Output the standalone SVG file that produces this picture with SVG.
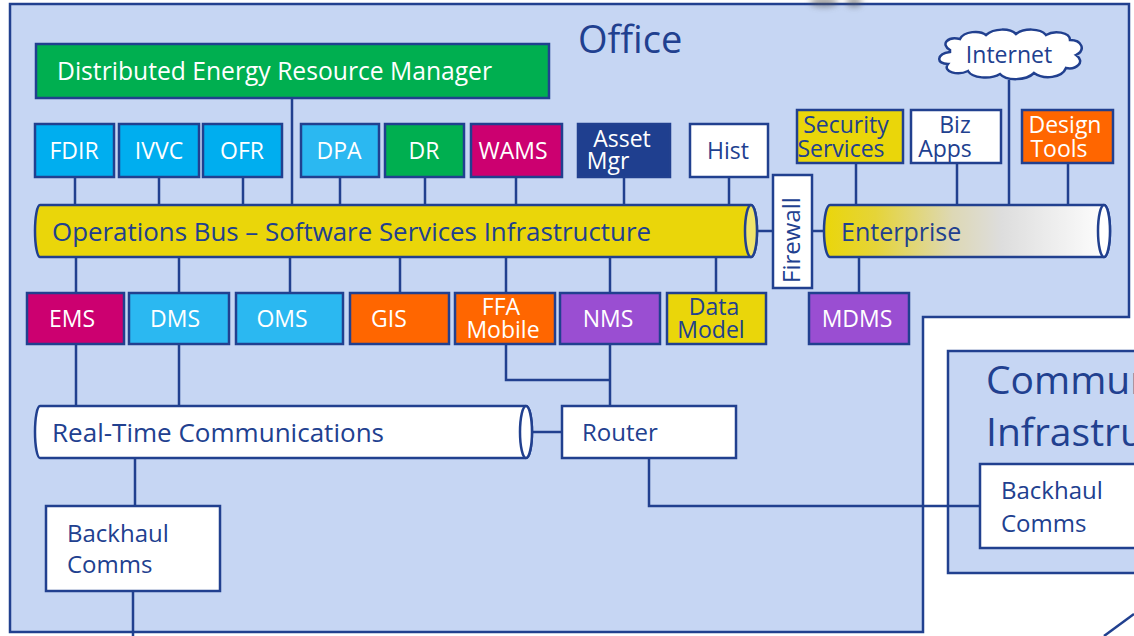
<svg xmlns="http://www.w3.org/2000/svg" width="1134" height="636" viewBox="0 0 1134 636">
<style>
.b{stroke:#21408F;stroke-width:2.5}
.ln{stroke:#21408F;stroke-width:2.5;fill:none}
text{font-family:"Open Sans","Liberation Sans",sans-serif;font-size:23px}
.w{fill:#fff}
.d{fill:#21408F}
.c{text-anchor:middle}
.cyan{fill:#00AEEF}
.lb{fill:#2BB8F1}
.gr{fill:#00AF50}
.mg{fill:#CC0070}
.nv{fill:#1F3F8F}
.wh{fill:#fff}
.yl{fill:#EAD60A}
.or{fill:#FF6600}
.pu{fill:#9A4ED2}
</style>
<defs>
<linearGradient id="entG" gradientUnits="userSpaceOnUse" x1="824" y1="0" x2="1110" y2="0">
<stop offset="0" stop-color="#EAD60A"/>
<stop offset="0.18" stop-color="#E5D438"/>
<stop offset="0.45" stop-color="#DDD8B5"/>
<stop offset="0.62" stop-color="#DDDDDD"/>
<stop offset="1" stop-color="#FFFFFF"/>
</linearGradient>
<filter id="blur" x="-50%" y="-100%" width="200%" height="300%"><feGaussianBlur stdDeviation="3"/></filter>
</defs>
<rect width="1134" height="636" fill="#fff"/>
<g id="office">
<path d="M10,4 H1129 V317 H923 V632 H10 Z" fill="#C6D6F3" class="b"/>
<text x="578" y="53" class="d" style="font-size:38px">Office</text>
</g>
<g id="smudge" filter="url(#blur)" opacity="0.55">
<ellipse cx="824" cy="2" rx="14" ry="5" fill="#555"/>
<ellipse cx="854" cy="2" rx="8" ry="5" fill="#555"/>
</g>
<g id="comm-infra">
<rect x="948" y="351" width="200" height="222" fill="#C6D6F3" class="b"/>
<text x="986" y="394" class="d" style="font-size:39px">Commun</text>
<text x="986" y="446" class="d" style="font-size:39px">Infrastru</text>
</g>
<g id="connectors">
<path class="ln" d="M292,98V205 M75,177V205 M159,177V205 M243,177V205 M340,177V205 M425,177V205 M516,177V205 M624,177V205 M729,177V205"/>
<path class="ln" d="M856,163V205 M957,163V205 M1009,80V205 M1068,163V205"/>
<path class="ln" d="M76,257V293 M179,257V293 M290,257V293 M400,257V293 M506,257V293 M610,257V293 M716,257V293 M859,257V293"/>
<path class="ln" d="M76,344V406 M179,344V406 M506,344V380H610 M610,344V406"/>
<path class="ln" d="M532,432H562 M135,458V506 M133,591V636 M649,458V506H980"/>
<path class="ln" d="M757,231H773 M812,231H824"/>
<path class="ln" d="M1104,636L1134,614"/>
</g>
<g id="derm">
<rect x="36" y="44" width="513" height="54" class="b gr"/>
<text x="57" y="80" class="w" style="font-size:25px" textLength="435" lengthAdjust="spacingAndGlyphs">Distributed Energy Resource Manager</text>
</g>
<g id="fdir"><rect x="35" y="124" width="79" height="53" class="b cyan"/><text x="74" y="159" class="w c">FDIR</text></g>
<g id="ivvc"><rect x="119" y="124" width="80" height="53" class="b cyan"/><text x="159" y="159" class="w c">IVVC</text></g>
<g id="ofr"><rect x="203" y="124" width="79" height="53" class="b cyan"/><text x="242" y="159" class="w c">OFR</text></g>
<g id="dpa"><rect x="301" y="124" width="78" height="53" class="b lb"/><text x="339" y="159" class="w c">DPA</text></g>
<g id="dr"><rect x="385" y="124" width="79" height="53" class="b gr"/><text x="424" y="159" class="w c">DR</text></g>
<g id="wams"><rect x="471" y="124" width="91" height="53" class="b mg"/><text x="513" y="159" class="w c">WAMS</text></g>
<g id="asset-mgr"><rect x="578" y="124" width="92" height="53" class="b nv"/><text x="622" y="147" class="w c">Asset</text><text x="608" y="169" class="w c">Mgr</text></g>
<g id="hist"><rect x="690" y="124" width="78" height="53" class="b wh"/><text x="728" y="159" class="d c">Hist</text></g>
<g id="security"><rect x="797" y="110" width="106" height="53" class="b yl"/><text x="846" y="133" class="d c">Security</text><text x="841" y="157" class="d c">Services</text></g>
<g id="biz-apps"><rect x="911" y="110" width="90" height="53" class="b wh"/><text x="955" y="133" class="d c">Biz</text><text x="945" y="157" class="d c">Apps</text></g>
<g id="design-tools"><rect x="1022" y="110" width="91" height="53" class="b or"/><text x="1065" y="133" class="w c">Design</text><text x="1059" y="157" class="w c">Tools</text></g>
<g id="internet">
<path class="b" fill="#fff" d="M950,50 C940,44 948,36 960,39 C964,31 980,30 986,35 C994,28 1010,28 1016,34 C1024,28 1040,28 1046,35 C1054,30 1070,32 1070,40 C1082,40 1086,50 1076,55 C1086,62 1076,70 1066,68 C1062,78 1044,80 1034,73 C1026,81 1006,81 1000,74 C990,80 972,78 968,71 C958,76 942,72 948,64 C936,64 936,54 950,52 Z"/>
<text x="1009" y="63" class="d c">Internet</text>
</g>
<g id="ops-bus">
<path class="b yl" d="M40,205 H751 A6,26 0 0 1 751,257 H40 A5,26 0 0 1 40,205 Z"/>
<ellipse cx="751" cy="231" rx="6" ry="26" fill="#F0E46C" class="b"/>
<text x="52" y="241" class="d" style="font-size:25px" textLength="599" lengthAdjust="spacingAndGlyphs">Operations Bus – Software Services Infrastructure</text>
</g>
<g id="firewall">
<rect x="773" y="175" width="39" height="113" class="b wh"/>
<text transform="translate(800,240) rotate(-90)" x="0" y="0" class="d c" style="font-size:24px">Firewall</text>
</g>
<g id="enterprise">
<path class="b" fill="url(#entG)" d="M830,205 H1104 A6,26 0 0 1 1104,257 H830 A6,26 0 0 1 830,205 Z"/>
<ellipse cx="1104" cy="231" rx="6" ry="26" fill="#fff" class="b"/>
<text x="841" y="241" class="d" style="font-size:25px">Enterprise</text>
</g>
<g id="ems"><rect x="27" y="293" width="97" height="51" class="b mg"/><text x="72" y="327" class="w c">EMS</text></g>
<g id="dms"><rect x="129" y="293" width="100" height="51" class="b lb"/><text x="175" y="327" class="w c">DMS</text></g>
<g id="oms"><rect x="236" y="293" width="107" height="51" class="b lb"/><text x="282" y="327" class="w c">OMS</text></g>
<g id="gis"><rect x="350" y="293" width="99" height="51" class="b or"/><text x="389" y="327" class="w c">GIS</text></g>
<g id="ffa-mobile"><rect x="455" y="293" width="100" height="51" class="b or"/><text x="501" y="315" class="w c">FFA</text><text x="503" y="338" class="w c">Mobile</text></g>
<g id="nms"><rect x="560" y="293" width="100" height="51" class="b pu"/><text x="608" y="327" class="w c">NMS</text></g>
<g id="data-model"><rect x="667" y="293" width="99" height="51" class="b yl"/><text x="714" y="315" class="d c">Data</text><text x="711" y="338" class="d c">Model</text></g>
<g id="mdms"><rect x="809" y="293" width="100" height="51" class="b pu"/><text x="857" y="327" class="w c">MDMS</text></g>
<g id="rtc">
<path class="b wh" d="M40,406 H526 A6,26 0 0 1 526,458 H40 A5,26 0 0 1 40,406 Z"/>
<ellipse cx="526" cy="432" rx="6" ry="26" fill="#fff" class="b"/>
<text x="52" y="442" class="d" style="font-size:25px" textLength="332" lengthAdjust="spacingAndGlyphs">Real-Time Communications</text>
</g>
<g id="router"><rect x="562" y="406" width="174" height="52" class="b wh"/><text x="582" y="441" class="d" style="font-size:24px">Router</text></g>
<g id="backhaul-left"><rect x="46" y="506" width="174" height="85" class="b wh"/><text x="67" y="542" class="d" style="font-size:24px">Backhaul</text><text x="67" y="573" class="d" style="font-size:24px">Comms</text></g>
<g id="backhaul-right"><rect x="980" y="464" width="170" height="84" class="b wh"/><text x="1001" y="499" class="d" style="font-size:24px">Backhaul</text><text x="1001" y="532" class="d" style="font-size:24px">Comms</text></g>
</svg>
